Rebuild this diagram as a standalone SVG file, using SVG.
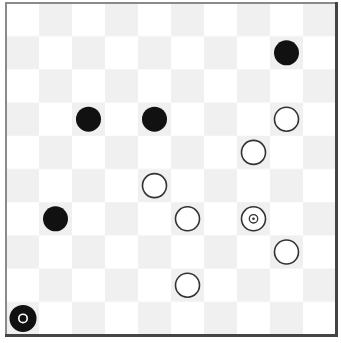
<svg xmlns="http://www.w3.org/2000/svg" width="341" height="343" viewBox="0 0 341 343">
<defs>
<pattern id="chk" x="6" y="3" width="66" height="66.4" patternUnits="userSpaceOnUse">
<rect x="33" y="0" width="33" height="33.2" fill="#f0f0f0"/>
<rect x="0" y="33.2" width="33" height="33.2" fill="#f0f0f0"/>
</pattern>
</defs>
<style>
.b{fill:#111;}
.w{fill:#fff;stroke:#333;stroke-width:1.6;}
</style>
<rect width="341" height="343" fill="#fff"/>
<g id="board">
<rect x="6" y="3" width="330" height="332" fill="url(#chk)"/>
<path d="M6,335 V3 H336" fill="none" stroke="#8a8a8a" stroke-width="2"/>
<path d="M5,335.5 H336.5 V2" fill="none" stroke="#444" stroke-width="3"/>
</g>
<g id="pieces">
<circle id="b1" class="b" cx="286.5" cy="52.8" r="12.5"/>
<circle id="b2" class="b" cx="88.5" cy="119.2" r="12.5"/>
<circle id="b3" class="b" cx="154.5" cy="119.2" r="12.5"/>
<circle id="w1" class="w" cx="286.5" cy="119.2" r="12"/>
<circle id="w2" class="w" cx="253.5" cy="152.4" r="12"/>
<circle id="w3" class="w" cx="154.5" cy="185.6" r="12"/>
<circle id="b4" class="b" cx="55.5" cy="218.8" r="12.5"/>
<circle id="w4" class="w" cx="187.5" cy="218.8" r="12"/>
<g id="w5">
<circle class="w" cx="253.5" cy="218.8" r="12"/>
<circle cx="253.5" cy="218.8" r="4.2" fill="none" stroke="#333" stroke-width="1.3"/>
<circle cx="253.5" cy="218.8" r="1.3" fill="#333"/>
</g>
<circle id="w6" class="w" cx="286.5" cy="252" r="12"/>
<circle id="w7" class="w" cx="187.5" cy="285.2" r="12"/>
<g id="b5">
<circle class="b" cx="23" cy="318.4" r="13.5"/>
<circle cx="23" cy="318.4" r="4.2" fill="none" stroke="#fff" stroke-width="1.6"/>
<circle cx="23" cy="318.4" r="1.5" fill="#111"/>
</g>
</g>
</svg>
